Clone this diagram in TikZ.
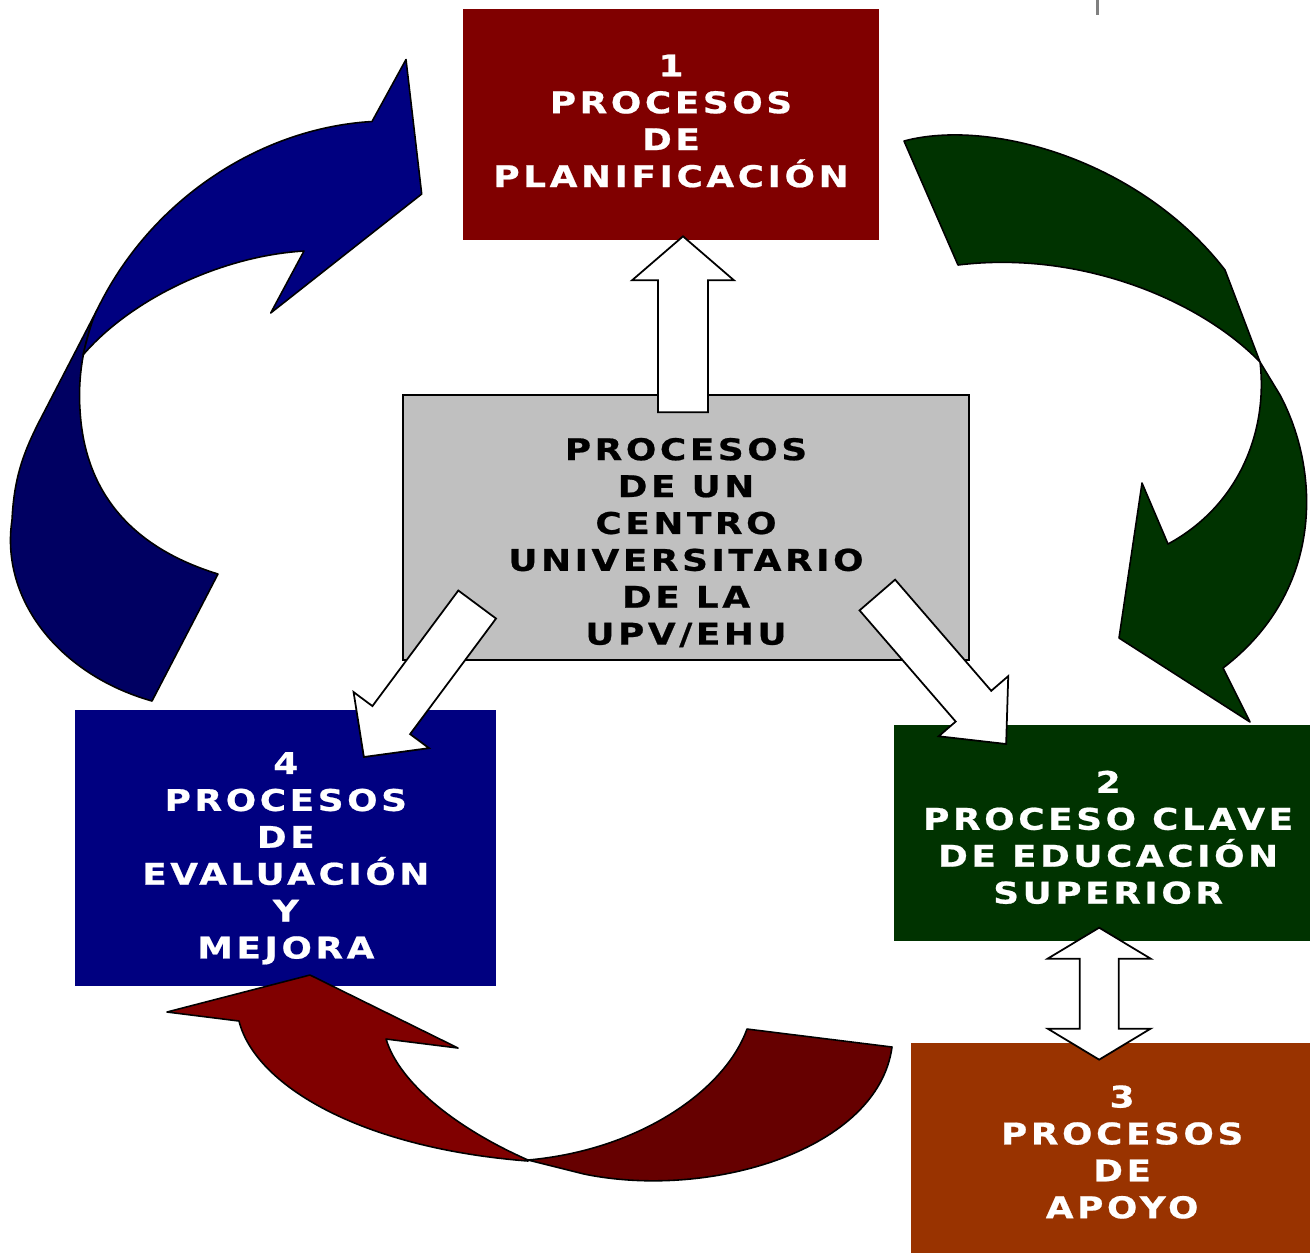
\documentclass[tikz,border=0pt]{standalone}
\usepackage{fontspec}
\usepackage{tikz}
\usetikzlibrary{calc, positioning}
\newfontfamily\boxfont{DejaVu Sans}[LetterSpace=12, FakeStretch=1.2, FakeBold=0.7]
\definecolor{planred}{HTML}{800000}
\definecolor{backred}{HTML}{660000}
\definecolor{centergray}{HTML}{C0C0C0}
\definecolor{clavegreen}{HTML}{003300}
\definecolor{apoyobrown}{HTML}{993300}
\definecolor{evalblue}{HTML}{000080}
\definecolor{backblue}{HTML}{000062}
\tikzset{
    box/.style={rectangle, inner sep=0pt},
    boxtext/.style={align=center, inner sep=0pt, font={\boxfont\bfseries\fontsize{17}{21}\selectfont}},
    white arrow/.style={draw=black, fill=white, line width=1pt, line join=miter},
    ribbon/.style={draw=black, line width=0.9pt, line join=round},
}
\newcommand{\blockarrow}[5]{% tail, tip, half shaft, half head, head length
    \coordinate (ba) at ($(#2)!#5!(#1)$);
    \draw[white arrow] ($(#1)!#3!90:(#2)$) -- ($(ba)!#3!90:(#2)$) -- ($(ba)!#4!90:(#2)$) -- (#2)
        -- ($(ba)!#4!-90:(#2)$) -- ($(ba)!#3!-90:(#2)$) -- ($(#1)!#3!-90:(#2)$) -- cycle;
}
\newcommand{\twowayarrow}[5]{% tip, tip, half shaft, half head, head length
    \coordinate (ba) at ($(#1)!#5!(#2)$);
    \coordinate (bb) at ($(#2)!#5!(#1)$);
    \draw[white arrow] ($(ba)!#3!90:(#1)$) -- ($(ba)!#4!90:(#1)$) -- (#1) -- ($(ba)!#4!-90:(#1)$) -- ($(ba)!#3!-90:(#1)$)
        -- ($(bb)!#3!90:(#2)$) -- ($(bb)!#4!90:(#2)$) -- (#2) -- ($(bb)!#4!-90:(#2)$) -- ($(bb)!#3!-90:(#2)$) -- cycle;
}

\begin{document}
\begin{tikzpicture}[x=0.02cm, y=-0.02cm]
    \path[use as bounding box, fill=white] (0,0) rectangle (1310,1252);
    \clip (0,0) rectangle (1310,1252);
    \draw[gray, line width=0.06cm] (1097,0) -- (1097,15);

    \node[box, fill=planred, minimum width=8.32cm, minimum height=4.62cm] (v1) at (671,124.5) {};
    \node[box, fill=centergray, draw=black, line width=1pt, minimum width=11.32cm, minimum height=5.3cm] (v5) [below=3.08cm of v1, xshift=0.3cm] {};
    \node[box, fill=clavegreen, minimum width=8.34cm, minimum height=4.32cm] (v2) [below right=1.28cm and -1.52cm of v5] {};
    \node[box, fill=apoyobrown, minimum width=8cm, minimum height=4.24cm] (v3) [below=2.02cm of v2, xshift=0.17cm] {};
    \node[box, fill=evalblue, minimum width=8.42cm, minimum height=5.52cm] (v4) [below left=0.98cm and -1.88cm of v5] {};

    \node[boxtext, text=white] (t1) at ($(v1.center)+(0,-3.5)$) {1\\PROCESOS\\DE\\PLANIFICACIÓN};
    \node[boxtext, text=black] (t5) at ($(v5.center)+(0,15)$) {PROCESOS\\DE UN\\CENTRO\\UNIVERSITARIO\\DE LA\\UPV/EHU};
    \node[boxtext, text=white] (t2) at ($(v2.center)+(5.5,4)$) {2\\PROCESO CLAVE\\DE EDUCACIÓN\\SUPERIOR};
    \node[boxtext, text=white] (t3) at ($(v3.center)+(11,3)$) {3\\PROCESOS\\DE\\APOYO};
    \node[boxtext, text=white] (t4) at ($(v4.center)+(0.5,10)$) {4\\PROCESOS\\DE\\EVALUACIÓN\\Y\\MEJORA};

    % blue ribbon
    \filldraw[ribbon, fill=backblue] (152,701) .. controls (60,675) and (0,600) .. (12,520) .. controls (14,480) and (22,455) .. (40,420)
        -- (97,310) .. controls (82,345) and (78,380) .. (80,410) .. controls (85,500) and (140,550) .. (218,574) -- cycle;
    \filldraw[ribbon, fill=evalblue] (83,355) .. controls (88,335) and (92,320) .. (97,310) .. controls (150,200) and (260,128) .. (372,121.5)
        -- (406,59.5) -- (421.7,194) -- (270.7,313) -- (304,251) .. controls (220,256) and (130,300) .. (83,355) -- cycle;

    % green ribbon
    \filldraw[ribbon, fill=clavegreen] (904,141) .. controls (990,118) and (1140,160) .. (1225,270) -- (1260,362)
        .. controls (1200,300) and (1080,250) .. (958,265) -- cycle;
    \filldraw[ribbon, fill=clavegreen] (1260,362) -- (1280,395) .. controls (1320,470) and (1325,590) .. (1223,668)
        -- (1250,722) -- (1119,638) -- (1142,483) -- (1168,544) .. controls (1240,505) and (1268,430) .. (1260,362) -- cycle;

    % red ribbon
    \filldraw[ribbon, fill=backred] (528,1160) .. controls (640,1150) and (725,1090) .. (747,1029)
        -- (892,1047) .. controls (878,1150) and (710,1200) .. (584,1174) -- cycle;
    \filldraw[ribbon, fill=planred] (528,1160) .. controls (460,1130) and (400,1085) .. (386,1039)
        -- (458,1048) -- (310,975) -- (167,1012) -- (239,1021) .. controls (255,1085) and (360,1148) .. (528,1161) -- cycle;

    \coordinate (A1) at ($(v5.north)+(-3,18)$);
    \coordinate (A2) at ($(v1.south)+(12,-4)$);
    \coordinate (B1) at ($(v5.south west)+(75,-56.5)$);
    \coordinate (B2) at ($(v4.north)+(78.5,47)$);
    \coordinate (C1) at ($(v5.south east)+(-92.5,-66)$);
    \coordinate (C2) at ($(v2.north)+(-96.5,19)$);
    \coordinate (D1) at ($(v2.south)+(-3.5,-14)$);
    \coordinate (D2) at ($(v3.north)+(-12,17)$);

    \blockarrow{A1}{A2}{0.5cm}{1.02cm}{0.88cm}
    \blockarrow{B1}{B2}{0.47cm}{0.94cm}{0.92cm}
    \blockarrow{C1}{C2}{0.47cm}{0.92cm}{1.0cm}
    \twowayarrow{D1}{D2}{0.39cm}{1.03cm}{0.62cm}
\end{tikzpicture}
\end{document}
